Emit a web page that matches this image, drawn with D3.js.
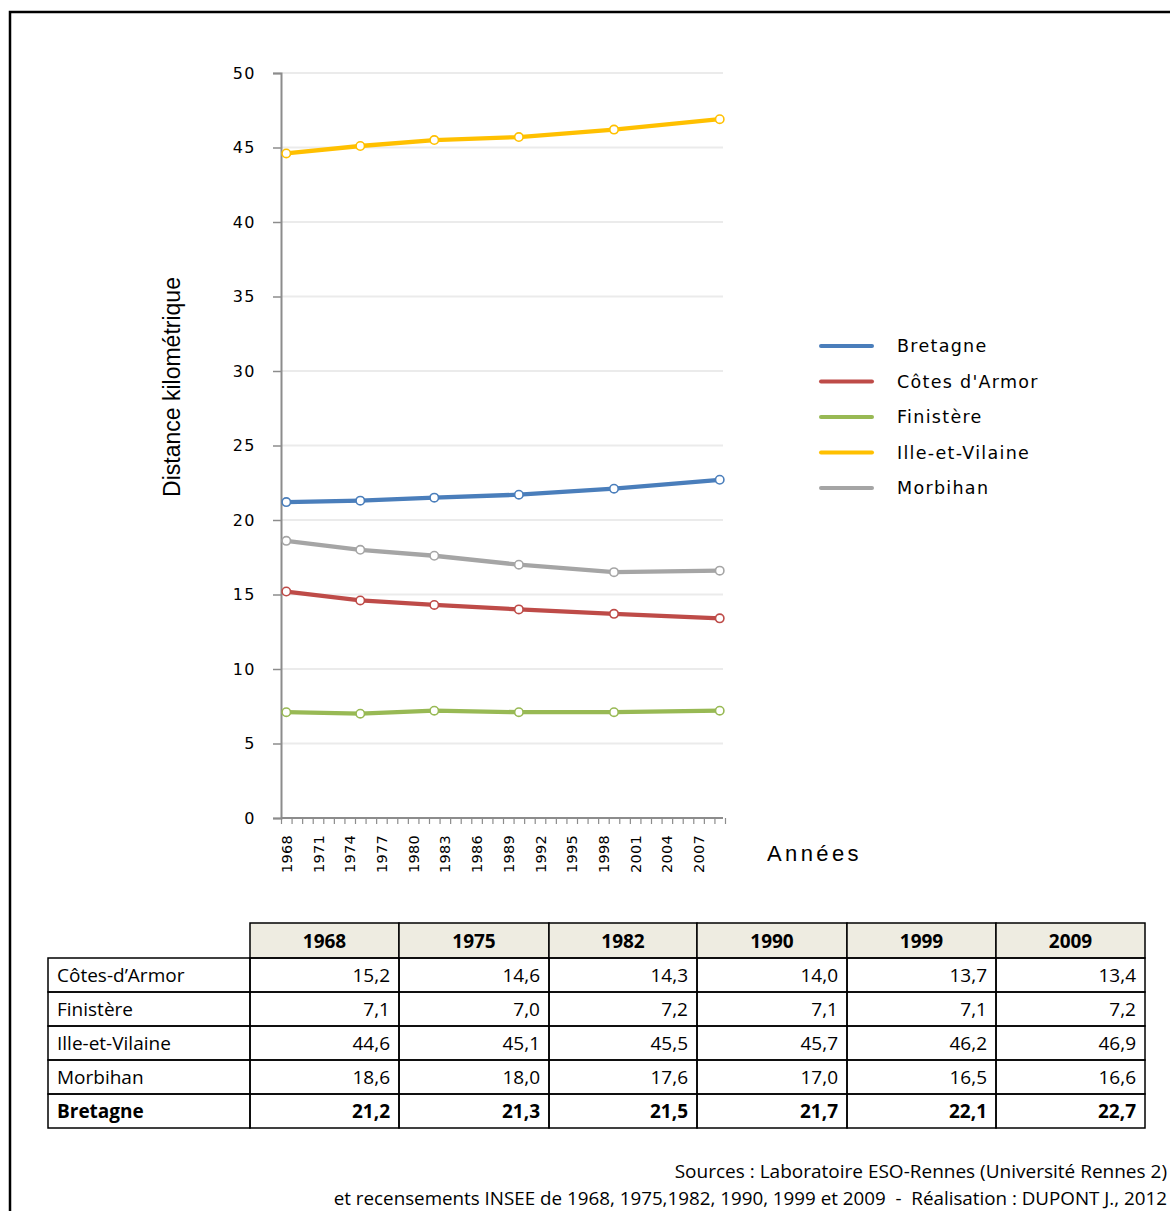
<!DOCTYPE html>
<html><head><meta charset="utf-8">
<script src="https://cdn.jsdelivr.net/npm/d3@7"></script>
<style>body{margin:0;background:#fff}svg{display:block}</style>
</head><body>
<svg id="c" width="1170" height="1211"></svg>
<script>
const years = [1968, 1975, 1982, 1990, 1999, 2009];
const bretagne = [21.2, 21.3, 21.5, 21.7, 22.1, 22.7];
const cotesArmor = [15.2, 14.6, 14.3, 14.0, 13.7, 13.4];
const finistere = [7.1, 7.0, 7.2, 7.1, 7.1, 7.2];
const illeVilaine = [44.6, 45.1, 45.5, 45.7, 46.2, 46.9];
const morbihan = [18.6, 18.0, 17.6, 17.0, 16.5, 16.6];
const legendNames = ["Bretagne", "Côtes d'Armor", "Finistère", "Ille-et-Vilaine", "Morbihan"];
const tableNames = ["Côtes-d’Armor", "Finistère", "Ille-et-Vilaine", "Morbihan", "Bretagne"];
const yTicks = [0, 5, 10, 15, 20, 25, 30, 35, 40, 45, 50];
const xTickLabels = [1968, 1971, 1974, 1977, 1980, 1983, 1986, 1989, 1992, 1995, 1998, 2001, 2004, 2007];
const colors = ["#4A7EBB", "#BE4B48", "#98B954", "#FFC000", "#A5A5A5"];

const series = [bretagne, cotesArmor, finistere, illeVilaine, morbihan];
const tableSeries = [cotesArmor, finistere, illeVilaine, morbihan, bretagne];

const svg = d3.select("#c");
// frame
svg.append("path").attr("d", "M10,1211V12H1170").attr("fill", "none").attr("stroke", "#000").attr("stroke-width", 2.5);

const x = d3.scaleLinear().domain([1967.5, 2009.5]).range([281, 725]);
const y = d3.scaleLinear().domain([0, 50]).range([818, 73]);

// gridlines
svg.append("g").selectAll("line").data(yTicks.filter(d => d > 0)).join("line")
  .attr("x1", 281).attr("x2", 723).attr("y1", d => y(d)).attr("y2", d => y(d))
  .attr("stroke", "#ebebeb").attr("stroke-width", 2);

// y axis
const yAxis = svg.append("g").attr("transform", "translate(281,0)")
  .call(d3.axisLeft(y).tickValues(yTicks).tickSize(8).tickPadding(17).tickFormat(d3.format("d")));
yAxis.select(".domain").attr("stroke", "#8c8c8c").attr("stroke-width", 2);
yAxis.selectAll(".tick line").attr("stroke", "#8c8c8c").attr("stroke-width", 1.5);
yAxis.selectAll(".tick text").attr("font-family", "DejaVu Sans").attr("font-size", 16)
  .attr("letter-spacing", 1.5).attr("fill", "#000");

// x axis ticks
const boundaries = d3.range(1967.5, 2010, 1);
const xAxis = svg.append("g").attr("transform", "translate(0,818)")
  .call(d3.axisBottom(x).tickValues(boundaries).tickSize(6).tickFormat(""));
xAxis.select(".domain").attr("stroke", "#8c8c8c").attr("stroke-width", 2).attr("d", "M281,0H723");
xAxis.selectAll(".tick line").attr("stroke", "#8c8c8c").attr("stroke-width", 1.2);
// x labels
svg.append("g").selectAll("text").data(xTickLabels).join("text")
  .attr("transform", d => `translate(${x(d) + 5.5},835) rotate(-90)`)
  .attr("text-anchor", "end").attr("font-family", "DejaVu Sans").attr("font-size", 14.5)
  .attr("letter-spacing", 0.3).text(d => d);

// titles
svg.append("text").attr("transform", "translate(180,387) rotate(-90)").attr("text-anchor", "middle")
  .attr("font-family", "Liberation Sans").attr("font-size", 23).text("Distance kilométrique");
svg.append("text").attr("x", 767).attr("y", 861).attr("font-family", "Liberation Sans")
  .attr("font-size", 22).attr("letter-spacing", 3.4).text("Années");

// lines
const line = d3.line().x((d, i) => x(years[i])).y(d => y(d));
series.forEach((s, k) => {
  svg.append("path").datum(s).attr("d", line).attr("fill", "none")
    .attr("stroke", colors[k]).attr("stroke-width", 4.3).attr("stroke-linejoin", "round").attr("stroke-linecap", "round");
  svg.append("g").selectAll("circle").data(s).join("circle")
    .attr("cx", (d, i) => x(years[i])).attr("cy", d => y(d)).attr("r", 4.2)
    .attr("fill", "#fff").attr("stroke", colors[k]).attr("stroke-width", 1.6);
});

// legend
const lg = svg.append("g").selectAll("g").data(legendNames).join("g")
  .attr("transform", (d, i) => `translate(0,${346 + i * 35.5})`);
lg.append("line").attr("x1", 821).attr("x2", 872).attr("stroke", (d, i) => colors[i]).attr("stroke-width", 4).attr("stroke-linecap", "round");
lg.append("text").attr("x", 897).attr("y", 6).attr("font-family", "DejaVu Sans").attr("font-size", 17.5)
  .attr("letter-spacing", 1.3).text(d => d);

// table
const colX = [48, 250, 399, 549, 697, 847, 996, 1145];
const rowY = [923, 958, 992, 1026, 1060, 1094, 1128];
const tf = "Open Sans";
const fs = 19;
const tbl = svg.append("g");
// header
tbl.selectAll("rect.h").data(years).join("rect").attr("class", "h")
  .attr("x", (d, i) => colX[i + 1]).attr("y", rowY[0]).attr("width", (d, i) => colX[i + 2] - colX[i + 1])
  .attr("height", rowY[1] - rowY[0]).attr("fill", "#EEECE1").attr("stroke", "#000").attr("stroke-width", 1.5);
tbl.selectAll("text.h").data(years).join("text").attr("class", "h")
  .attr("x", (d, i) => (colX[i + 1] + colX[i + 2]) / 2).attr("y", 948).attr("text-anchor", "middle")
  .attr("font-family", tf).attr("font-size", fs).attr("font-weight", "bold").text(d => d);
// body cells
tableSeries.forEach((s, r) => {
  const y0 = rowY[r + 1], y1 = rowY[r + 2];
  const bold = r === 4 ? "bold" : "normal";
  tbl.append("rect").attr("x", colX[0]).attr("y", y0).attr("width", colX[1] - colX[0]).attr("height", y1 - y0)
    .attr("fill", "none").attr("stroke", "#000").attr("stroke-width", 1.5);
  tbl.append("text").attr("x", 57).attr("y", y0 + 24).attr("font-family", tf).attr("font-size", fs)
    .attr("font-weight", bold).text(tableNames[r]);
  s.forEach((v, c) => {
    tbl.append("rect").attr("x", colX[c + 1]).attr("y", y0).attr("width", colX[c + 2] - colX[c + 1]).attr("height", y1 - y0)
      .attr("fill", "none").attr("stroke", "#000").attr("stroke-width", 1.5);
    tbl.append("text").attr("x", colX[c + 2] - 9).attr("y", y0 + 24).attr("text-anchor", "end")
      .attr("font-family", tf).attr("font-size", fs).attr("font-weight", bold)
      .text(d3.format(".1f")(v).replace(".", ","));
  });
});

// sources
svg.append("text").attr("x", 1167).attr("y", 1178).attr("text-anchor", "end").attr("font-family", tf)
  .attr("font-size", fs).text("Sources : Laboratoire ESO-Rennes (Université Rennes 2)");
svg.append("text").attr("x", 1167).attr("y", 1205).attr("text-anchor", "end").attr("font-family", tf)
  .attr("font-size", 18.8).attr("xml:space", "preserve").text("et recensements INSEE de 1968, 1975,1982, 1990, 1999 et 2009  -  Réalisation : DUPONT J., 2012");
</script>
</body></html>
